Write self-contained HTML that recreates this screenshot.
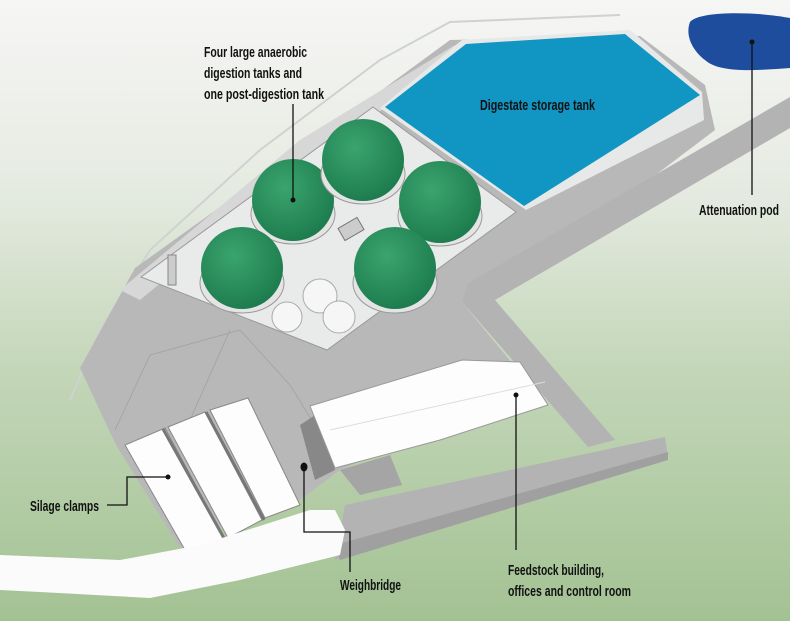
<!DOCTYPE html>
<html><head><meta charset="utf-8"><style>
html,body{margin:0;padding:0;width:790px;height:621px;overflow:hidden}
text{font-family:"Liberation Sans Narrow","Liberation Sans",sans-serif;font-weight:bold;font-size:15px;fill:#111}
</style></head><body>
<svg width="790" height="621" viewBox="0 0 790 621" xmlns="http://www.w3.org/2000/svg">
<defs>
<linearGradient id="bg" x1="0" y1="0" x2="0" y2="1">
<stop offset="0" stop-color="#f6f6f5"/><stop offset="0.3" stop-color="#e6ebe2"/><stop offset="0.6" stop-color="#c3d6b8"/><stop offset="1" stop-color="#a3c293"/></linearGradient>
<radialGradient id="dome" cx="0.4" cy="0.35" r="0.7"><stop offset="0" stop-color="#3aa46e"/><stop offset="1" stop-color="#1c7a4c"/></radialGradient>
</defs>
<rect width="790" height="621" fill="url(#bg)"/>
<polyline points="70,400 100,330 150,250 260,150 380,60 450,22 620,15" fill="none" stroke="#cfd2cf" stroke-width="2"/>
<!-- main gray apron -->
<polygon points="116,445 80,368 135,268 300,150 450,40 640,36 705,85 715,130 530,270 462,302 530,385 460,420 340,470 300,500 240,515 180,548" fill="#b8b8b9"/>
<polygon points="120,290 300,140 455,45 465,52 310,160 140,300" fill="#d6d7d6"/>
<!-- roads -->
<polygon points="790,97 468,283 462,302 588,447 615,440 495,300 790,128" fill="#b3b3b4"/>
<polygon points="345,505 665,437 668,458 335,560" fill="#b3b3b4"/>
<polygon points="335,545 668,452 668,460 340,560" fill="#a0a0a1"/>
<!-- tank enclosure -->
<polygon points="380,108 462,40 630,30 702,92 704,120 526,210" fill="#e7e8e8"/>
<polygon points="385,107 466,44 625,34 700,95 524,206" fill="#1196c4"/>
<!-- digester pad -->
<polygon points="141,277 373,107 516,212 327,350" fill="#e9eaea" stroke="#9a9a9a" stroke-width="1"/>
<polyline points="115,430 150,355 240,330 290,385 330,450" fill="none" stroke="#9e9e9e" stroke-width="0.7"/>
<line x1="230" y1="330" x2="190" y2="420" stroke="#9e9e9e" stroke-width="0.7"/>
<g>
<ellipse cx="293" cy="214" rx="42" ry="30" fill="#e4e4e4" stroke="#999"/>
<circle cx="293" cy="200" r="41" fill="url(#dome)"/>
<ellipse cx="363" cy="174" rx="42" ry="30" fill="#e4e4e4" stroke="#999"/>
<circle cx="363" cy="160" r="41" fill="url(#dome)"/>
<ellipse cx="440" cy="216" rx="42" ry="30" fill="#e4e4e4" stroke="#999"/>
<circle cx="440" cy="202" r="41" fill="url(#dome)"/>
<ellipse cx="395" cy="283" rx="42" ry="30" fill="#e4e4e4" stroke="#999"/>
<circle cx="395" cy="268" r="41" fill="url(#dome)"/>
<ellipse cx="242" cy="283" rx="42" ry="30" fill="#e4e4e4" stroke="#999"/>
<circle cx="242" cy="268" r="41" fill="url(#dome)"/>
</g>
<circle cx="320" cy="296" r="17" fill="#f6f6f6" stroke="#aaa"/>
<circle cx="287" cy="317" r="15" fill="#f6f6f6" stroke="#aaa"/>
<circle cx="339" cy="317" r="16" fill="#f6f6f6" stroke="#aaa"/>
<rect x="340" y="222" width="22" height="14" fill="#ccc" stroke="#777" transform="rotate(-30 351 229)"/>
<rect x="168" y="255" width="8" height="30" fill="#ccc" stroke="#888"/>
<path d="M690,22 C700,10 760,12 790,18 L790,68 C760,70 720,74 705,60 C692,50 685,35 690,22 Z" fill="#1e4d9e"/>
<!-- silage clamps -->
<polygon points="125,445 165,428 225,540 185,550" fill="#fdfdfd" stroke="#888"/>
<polygon points="168,427 205,412 262,520 228,538" fill="#fdfdfd" stroke="#888"/>
<polygon points="210,410 248,398 300,505 265,518" fill="#fdfdfd" stroke="#888"/>
<line x1="163" y1="429" x2="225" y2="540" stroke="#777" stroke-width="3"/>
<line x1="206" y1="412" x2="264" y2="520" stroke="#777" stroke-width="3"/>
<polygon points="0,555 120,560 200,545 310,510 335,510 345,530 340,555 240,580 150,598 40,592 0,590" fill="#fbfbfb"/>
<!-- feedstock building -->
<polygon points="300,425 320,412 335,470 315,480" fill="#888"/>
<polygon points="310,406 462,360 520,362 548,405 440,440 335,468" fill="#fdfdfd" stroke="#999"/>
<line x1="330" y1="430" x2="545" y2="382" stroke="#ddd"/>
<polygon points="340,470 390,455 402,485 360,495" fill="#a5a5a5"/>
<g stroke="#111" stroke-width="1.3" fill="none">
<line x1="293" y1="200" x2="293" y2="104"/>
<line x1="752" y1="42" x2="752" y2="195"/>
<polyline points="107,505 127,505 127,477 168,477"/>
<polyline points="304,467 304,532 350,532 350,572"/>
<line x1="516" y1="395" x2="516" y2="550"/>
</g>
<g fill="#111">
<circle cx="293" cy="200" r="2.5"/><circle cx="752" cy="42" r="2.5"/><circle cx="168" cy="477" r="2.5"/>
<ellipse cx="304" cy="467" rx="3.5" ry="4.5"/><circle cx="516" cy="395" r="2.5"/>
</g>
<g>
<text x="204" y="57" textLength="103" lengthAdjust="spacingAndGlyphs">Four large anaerobic</text>
<text x="204" y="78" textLength="98" lengthAdjust="spacingAndGlyphs">digestion tanks and</text>
<text x="204" y="99" textLength="120" lengthAdjust="spacingAndGlyphs">one post-digestion tank</text>
<text x="480" y="110" textLength="115" lengthAdjust="spacingAndGlyphs">Digestate storage tank</text>
<text x="699" y="215" textLength="80" lengthAdjust="spacingAndGlyphs">Attenuation pod</text>
<text x="30" y="511" textLength="69" lengthAdjust="spacingAndGlyphs">Silage clamps</text>
<text x="340" y="590" textLength="61" lengthAdjust="spacingAndGlyphs">Weighbridge</text>
<text x="508" y="575" textLength="96" lengthAdjust="spacingAndGlyphs">Feedstock building,</text>
<text x="508" y="596" textLength="123" lengthAdjust="spacingAndGlyphs">offices and control room</text>
</g>
</svg>
</body></html>
